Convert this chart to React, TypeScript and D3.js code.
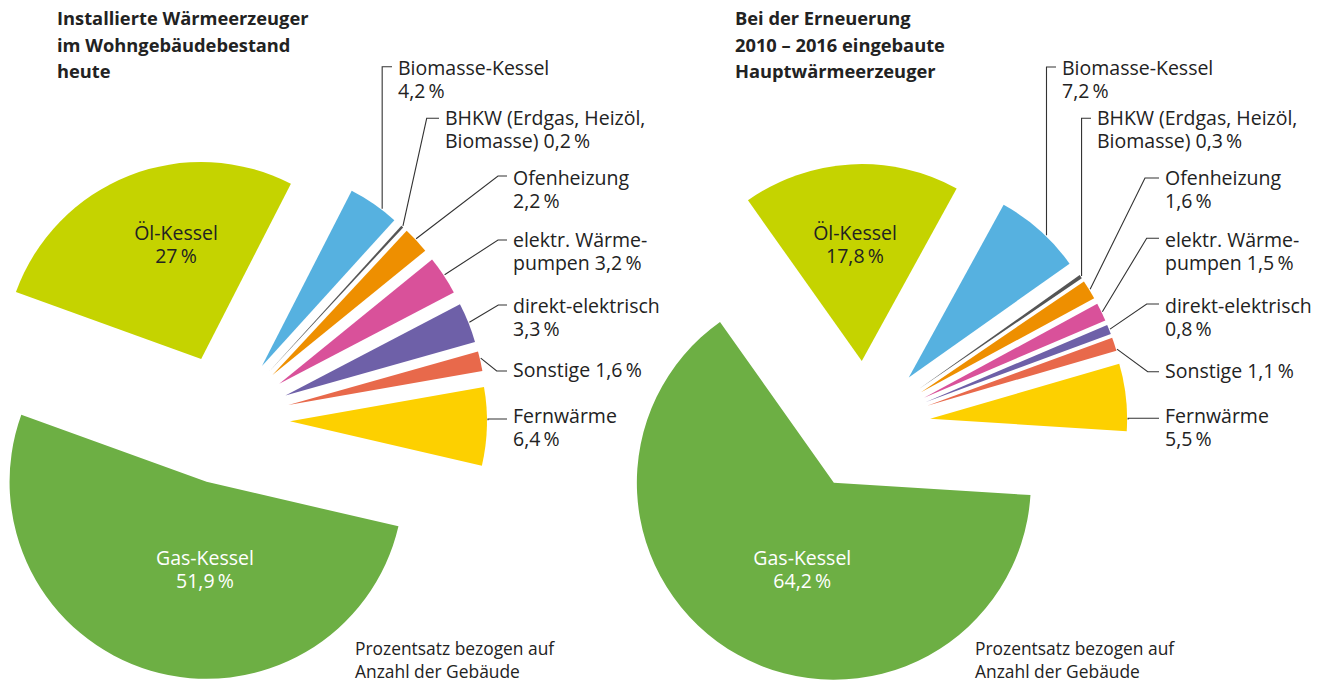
import * as d3 from 'd3';

const categories = [
    'Öl-Kessel',
    'Biomasse-Kessel',
    'BHKW',
    'Ofenheizung',
    'elektr. Wärmepumpen',
    'direkt-elektrisch',
    'Sonstige',
    'Fernwärme',
    'Gas-Kessel',
];

// label text per category, {v} is replaced by the value
const labelLines = [
    ['Öl-Kessel', '{v}'],
    ['Biomasse-Kessel', '{v}'],
    ['BHKW (Erdgas, Heizöl,', 'Biomasse) {v}'],
    ['Ofenheizung', '{v}'],
    ['elektr. Wärme-', 'pumpen {v}'],
    ['direkt-elektrisch', '{v}'],
    ['Sonstige {v}'],
    ['Fernwärme', '{v}'],
    ['Gas-Kessel', '{v}'],
];

const bestandValues = [27, 4.2, 0.2, 2.2, 3.2, 3.3, 1.6, 6.4, 51.9];
const erneuerungValues = [17.8, 7.2, 0.3, 1.6, 1.5, 0.8, 1.1, 5.5, 64.2];

const colors = [
    '#c5d300',
    '#56b1e0',
    '#555555',
    '#ee8f00',
    '#d9519a',
    '#6e60a8',
    '#e8694b',
    '#fdd000',
    '#6daf44',
];

const bestandTitle = ['Installierte Wärmeerzeuger', 'im Wohngebäudebestand', 'heute'];
const erneuerungTitle = ['Bei der Erneuerung', '2010 – 2016 eingebaute', 'Hauptwärmeerzeuger'];
const noteLines = ['Prozentsatz bezogen auf', 'Anzahl der Gebäude'];

const width = 1322;
const height = 683;
const radius = 197;
const explode = 65;
const font = "'Open Sans', sans-serif";
const fontSize = 19.5;
const lineGap = 23;

// label layout: [textX, baseline, leaderY, elbowX (null = vertical from slice), anchor fraction in slice]
type LabelPos = [number, number, number, number | null, number];

type Layout = {
    cx: number;
    cy: number;
    startDeg: number;
    titleX: number;
    noteX: number;
    inner: Record<number, [number, number, string]>;
    labels: Record<number, LabelPos>;
};

const bestandLayout: Layout = {
    cx: 225,
    cy: 419.5,
    startDeg: -70.1,
    titleX: 57,
    noteX: 355,
    inner: { 0: [-49, -179.5, '#222'], 8: [-20, 145.5, '#fff'] },
    labels: {
        1: [398, 75, 66.7, null, 0.68],
        2: [445, 125, 118.3, 426.7, 0.5],
        3: [513, 185, 176, 498, 0.45],
        4: [513, 246.7, 240, 498, 0.5],
        5: [513, 312.7, 305, 498.3, 0.5],
        6: [513, 377.3, 371, 496.7, 0.35],
        7: [513, 422.7, 419, null, 0.42],
    },
};

const erneuerungLayout: Layout = {
    cx: 865.5,
    cy: 426,
    startDeg: -35.3,
    titleX: 735,
    noteX: 975,
    inner: { 0: [-10.5, -186, '#222'], 8: [-63.2, 139, '#fff'] },
    labels: {
        1: [1062, 75, 67, null, 0.59],
        2: [1097, 125, 118.3, null, 0.5],
        3: [1165, 185, 178, 1145, 0.5],
        4: [1165, 246.7, 238.3, 1146.7, 0.5],
        5: [1165, 313.3, 304, 1146.7, 0.5],
        6: [1165, 378.3, 371.7, 1147.7, 0.9],
        7: [1165, 422.7, 418.3, null, 0.83],
    },
};

function fmt(v: number) {
    return String(v).replace('.', ',') + '\u2009%';
}

function ExplodedPie({ values, layout, title }: { values: number[]; layout: Layout; title: string[] }) {
    const start = (layout.startDeg * Math.PI) / 180;
    const pie = d3
        .pie<number>()
        .sort(null)
        .startAngle(start)
        .endAngle(start + 2 * Math.PI);
    const arc = d3.arc<d3.PieArcDatum<number>>().innerRadius(0).outerRadius(radius);
    const slices = pie(values);

    return (
        <g>
            {title.map((t, i) => (
                <text
                    key={t}
                    x={layout.titleX}
                    y={25 + i * 26.7}
                    fontFamily={font}
                    fontWeight="bold"
                    fontSize={18.3}
                    fill="#222"
                >
                    {t}
                </text>
            ))}
            {slices.map((s, i) => {
                const mid = (s.startAngle + s.endAngle) / 2;
                const ox = layout.cx + Math.sin(mid) * explode;
                const oy = layout.cy - Math.cos(mid) * explode;
                return (
                    <path
                        key={categories[i]}
                        d={arc(s) ?? ''}
                        transform={`translate(${ox},${oy})`}
                        fill={colors[i]}
                    />
                );
            })}
            {slices.map((s, i) => {
                const mid = (s.startAngle + s.endAngle) / 2;
                const ox = layout.cx + Math.sin(mid) * explode;
                const oy = layout.cy - Math.cos(mid) * explode;
                const lines = labelLines[i].map((l) => l.replace('{v}', fmt(values[i])));

                const inner = layout.inner[i];
                if (inner) {
                    return (
                        <text
                            key={'l' + i}
                            fontFamily={font}
                            fontSize={fontSize}
                            fill={inner[2]}
                            textAnchor="middle"
                        >
                            {lines.map((l, j) => (
                                <tspan key={j} x={layout.cx + inner[0]} y={layout.cy + inner[1] + j * lineGap}>
                                    {l}
                                </tspan>
                            ))}
                        </text>
                    );
                }

                const pos = layout.labels[i];
                if (!pos) return null;
                const [tx, ty, ly, elbowX, frac] = pos;
                const a = s.startAngle + frac * (s.endAngle - s.startAngle);
                const sx = ox + Math.sin(a) * (radius + 1);
                const sy = oy - Math.cos(a) * (radius + 1);
                const ex = elbowX ?? sx;
                const pts: [number, number][] = [
                    [sx, sy],
                    [ex, ly],
                    [tx - 6, ly],
                ];
                return (
                    <g key={'l' + i}>
                        <path d={d3.line()(pts) ?? ''} fill="none" stroke="#333" strokeWidth={1.1} />
                        <text fontFamily={font} fontSize={fontSize} fill="#222">
                            {lines.map((l, j) => (
                                <tspan key={j} x={tx} y={ty + j * lineGap}>
                                    {l}
                                </tspan>
                            ))}
                        </text>
                    </g>
                );
            })}
            {noteLines.map((t, i) => (
                <text key={t} x={layout.noteX} y={655 + i * 22.5} fontFamily={font} fontSize={17.4} fill="#222">
                    {t}
                </text>
            ))}
        </g>
    );
}

export default function App() {
    return (
        <svg
            width={width}
            height={height}
            style={{ position: 'absolute', left: 0, top: 0, background: '#fff' }}
        >
            <ExplodedPie values={bestandValues} layout={bestandLayout} title={bestandTitle} />
            <ExplodedPie values={erneuerungValues} layout={erneuerungLayout} title={erneuerungTitle} />
        </svg>
    );
}
